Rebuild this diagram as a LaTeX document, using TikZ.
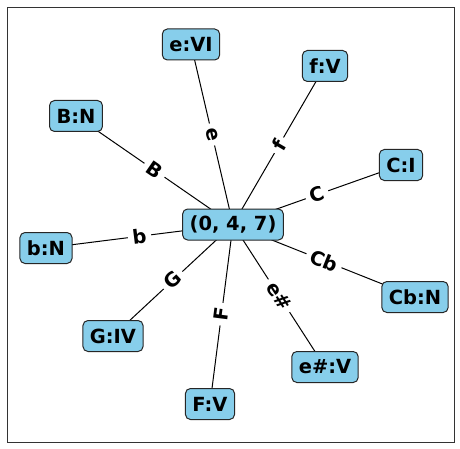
\documentclass[tikz,border=0pt]{standalone}
\usepackage{fontspec}
\setmainfont{DejaVu Sans}
\definecolor{skyblue}{HTML}{87CEEB}
\usepackage{tikz}
\usetikzlibrary{backgrounds}

\begin{document}
\begin{tikzpicture}[x=0.75pt, y=-0.75pt,
    chord/.style={rectangle, draw=black!85, line width=0.75pt, fill=skyblue, rounded corners=3.75pt, minimum height=23.25pt, inner xsep=5.25pt, inner ysep=0pt, font=\fontsize{14.6}{17}\selectfont\bfseries},
    link/.style={line width=0.75pt, black},
    lbl/.style={fill=white, rounded corners=3pt, inner sep=3.5pt, sloped, font=\fontsize{14.6}{17}\selectfont\bfseries}]
      \useasboundingbox (0,0) rectangle (460,449);
      \draw[line width=0.6pt, black!80] (7,7) rectangle (454,442);
      \node[chord] (x0) at (233,224.5) {(0, 4, 7)};
      \node[chord] (x1) at (191,44.5) {e:VI};
      \node[chord] (x2) at (325,66) {f:V};
      \node[chord] (x3) at (76,116) {B:N};
      \node[chord] (x4) at (401,165) {C:I};
      \node[chord] (x5) at (46,248) {b:N};
      \node[chord] (x6) at (415,297) {Cb:N};
      \node[chord] (x7) at (113,336) {G:IV};
      \node[chord] (x8) at (325,367) {e\#:V};
      \node[chord] (x9) at (210,404) {F:V};
      \begin{scope}[on background layer]
        \draw[link] (x1.center) -- node[lbl] {e} (x0.center);
        \draw[link] (x0.center) -- node[lbl] {f} (x2.center);
        \draw[link] (x3.center) -- node[lbl] {B} (x0.center);
        \draw[link] (x0.center) -- node[lbl] {C} (x4.center);
        \draw[link] (x5.center) -- node[lbl] {b} (x0.center);
        \draw[link] (x0.center) -- node[lbl] {Cb} (x6.center);
        \draw[link] (x7.center) -- node[lbl] {G} (x0.center);
        \draw[link] (x0.center) -- node[lbl] {e\#} (x8.center);
        \draw[link] (x9.center) -- node[lbl] {F} (x0.center);
      \end{scope}
    \end{tikzpicture}
\end{document}
